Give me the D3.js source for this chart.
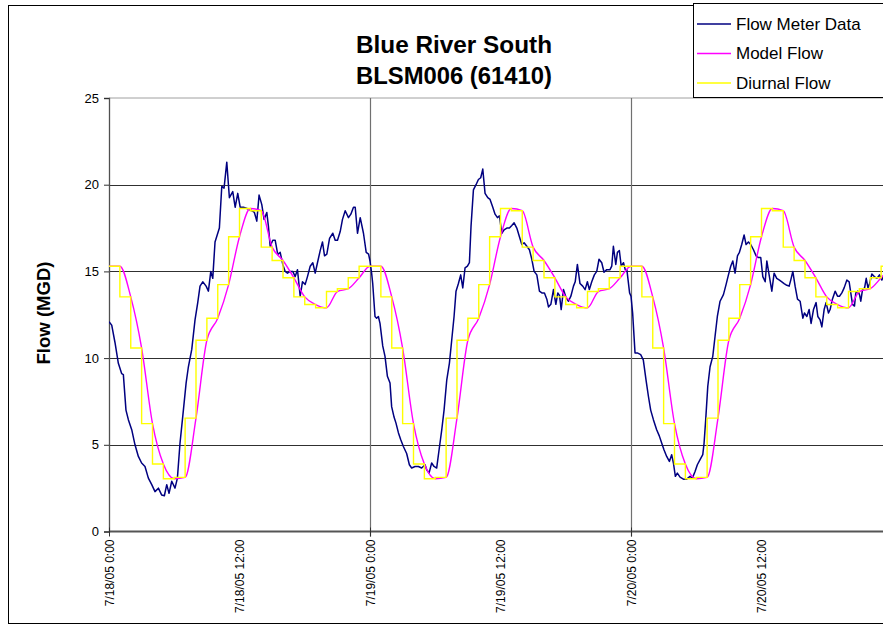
<!DOCTYPE html>
<html>
<head>
<meta charset="utf-8">
<script src="https://cdn.jsdelivr.net/npm/d3@7"></script>
<style>
  html, body { margin: 0; padding: 0; background: #fff; }
  svg { display: block; font-family: "Liberation Sans", Arial, sans-serif; }
</style>
</head>
<body>
<svg id="chart" width="883" height="628"></svg>
<script>
// ---------------- DATA ----------------
const titleLines = ["Blue River South", "BLSM006 (61410)"];
const yAxisTitle = "Flow (MGD)";
const seriesNames = ["Flow Meter Data", "Model Flow", "Diurnal Flow"];
const seriesColors = ["#000080", "#FF00FF", "#FFFF00"];
const yTicks = [0, 5, 10, 15, 20, 25];
const xTickLabels = ["7/18/05 0:00", "7/18/05 12:00", "7/19/05 0:00", "7/19/05 12:00", "7/20/05 0:00", "7/20/05 12:00"];
const xTickHours = [0, 12, 24, 36, 48, 60];
const dayGridHours = [24, 48];

// Flow meter readings: hours since 7/18/05 0:00, and flow (MGD)
const flowHours = [
  0.0,0.25,0.55,0.86,1.17,1.32,1.56,1.78,2.09,2.39,2.7,3.0,3.31,3.62,3.93,4.23,4.54,4.85,5.09,5.31,5.52,5.77,6.07,6.29,6.53,6.84,
  7.09,7.3,7.61,7.91,8.16,8.37,8.62,8.93,9.14,9.36,9.54,9.75,10.15,10.37,10.58,10.83,11.07,11.38,11.6,11.84,12.06,12.36,12.82,
  13.13,13.37,13.59,13.8,14.05,14.26,14.51,14.66,14.82,15.06,15.28,15.52,15.74,15.98,16.2,16.41,16.66,16.9,17.12,17.33,17.58,
  17.79,18.04,18.25,18.5,18.74,18.96,19.17,19.42,19.63,19.82,20.03,20.28,20.58,20.8,21.01,21.26,21.47,21.72,22.02,22.24,22.48,
  22.64,22.85,23.1,23.4,23.65,23.87,
  24.0,24.15,24.25,24.46,24.61,24.77,24.92,25.17,25.38,25.6,25.84,25.99,26.21,26.39,26.61,26.82,27.07,27.37,27.62,27.83,28.14,
  28.45,28.75,29.06,29.21,29.43,29.67,29.89,30.13,30.35,30.6,30.81,31.06,31.3,31.52,31.73,31.91,32.13,32.34,32.53,32.74,32.96,
  33.14,33.29,33.51,33.75,33.97,34.18,34.37,34.58,34.83,35.04,35.29,35.5,35.72,35.9,36.12,36.33,36.58,36.82,37.04,37.25,37.5,
  37.74,37.96,38.17,38.42,38.66,38.88,39.09,39.34,39.58,39.8,40.04,40.26,40.41,40.63,40.87,41.09,41.27,41.43,41.58,41.79,42.04,
  42.25,42.47,42.71,42.87,43.07,43.31,43.56,43.78,43.99,44.17,44.39,44.63,44.85,45.06,45.31,45.52,45.77,46.07,46.23,46.38,46.6,
  46.75,46.93,47.1,47.31,47.47,47.62,47.87,
  48.0,48.15,48.37,48.58,48.89,49.13,49.38,49.6,49.81,50.06,50.36,50.61,50.82,51.04,51.28,51.53,51.74,51.9,52.08,52.26,52.51,
  52.82,53.12,53.43,53.64,53.89,54.1,54.35,54.6,54.72,54.87,55.06,55.27,55.52,55.73,55.94,56.19,56.5,56.74,56.96,57.17,57.36,
  57.57,57.79,57.97,58.18,58.4,58.58,58.8,59.01,59.26,59.5,59.72,59.93,60.12,60.34,60.49,60.7,60.95,61.16,61.4,61.65,61.87,
  62.08,62.33,62.54,62.69,62.88,63.09,63.31,63.55,63.8,63.95,64.17,64.38,64.56,64.78,65.02,65.18,65.39,65.55,65.76,65.94,66.16,
  66.31,66.52,66.77,66.99,67.17,67.39,67.6,67.85,68.06,68.21,68.37,68.55,68.67,68.86,69.01,69.13,69.29,69.48,69.63,69.79,69.94,
  70.15,70.37,70.61,70.85,71.07,71.19,71.3
];
const flowValues = [
  12.1,11.9,10.9,9.7,9.1,9.05,7.0,6.45,5.87,5.0,4.33,3.95,3.75,3.08,2.7,2.3,2.5,2.1,2.06,2.7,2.2,2.9,2.5,3.08,5.1,7.0,
  8.56,9.5,10.5,12.2,13.2,14.15,14.4,14.15,13.86,15.0,14.6,16.7,17.5,19.9,19.8,21.3,19.25,19.6,18.7,19.5,18.7,18.7,18.6,
  18.5,18.4,17.9,19.4,18.85,18.0,18.4,17.6,16.45,16.8,16.8,15.97,16.1,15.4,15.0,14.9,15.0,15.0,14.7,15.1,13.57,
  14.4,14.25,14.7,15.3,15.5,14.9,15.5,16.2,16.7,15.9,16.0,16.9,17.2,16.8,16.8,17.3,18.0,18.5,18.1,18.3,18.7,
  18.7,17.2,18.1,17.2,16.1,16.0,
  15.6,14.9,14.3,12.4,12.3,12.4,12.0,10.7,10.1,8.95,8.56,7.2,6.6,6.25,5.7,5.3,4.9,4.5,3.85,3.66,3.75,
  3.75,3.66,3.85,3.56,3.37,3.95,3.75,3.66,4.7,5.87,7.0,8.75,9.7,11.07,12.4,13.86,14.3,14.8,14.05,15.2,15.3,
  15.5,17.6,19.7,20.0,20.3,20.4,20.9,19.5,19.25,19.15,18.7,18.3,18.1,18.2,17.2,17.4,17.5,17.5,17.65,17.8,17.5,
  17.0,16.55,16.65,16.45,16.25,15.7,15.0,14.8,13.86,13.76,13.76,13.4,12.95,13.1,13.95,13.1,13.76,13.6,12.8,13.95,13.47,
  13.28,13.57,14.15,14.4,15.4,14.3,14.15,13.95,14.4,13.95,14.4,14.8,15.0,15.7,15.5,14.95,15.1,15.1,15.3,16.45,15.4,
  16.1,16.2,15.3,15.5,15.1,15.1,13.76,
  13.57,12.6,10.3,10.3,10.2,9.9,8.75,7.8,7.0,6.45,5.87,5.5,5.1,4.7,4.33,4.04,4.43,3.95,3.18,3.37,3.14,
  3.02,3.02,3.18,3.08,3.46,3.85,4.14,4.43,5.1,6.45,8.37,9.5,10.1,11.26,12.4,13.28,13.66,14.24,14.8,15.3,15.6,
  14.9,15.9,16.1,16.55,17.1,16.55,16.7,16.55,16.25,15.9,15.8,15.8,14.7,14.4,15.6,14.8,13.86,14.9,14.6,14.5,14.4,
  14.3,14.2,14.15,14.5,15.0,14.15,13.4,13.28,12.3,12.6,12.4,12.8,12.0,12.8,13.2,12.4,12.2,11.8,12.8,13.2,12.6,
  12.8,13.4,13.86,13.57,13.57,13.76,14.05,14.5,14.4,13.76,13.1,13.0,13.76,13.86,13.66,13.28,13.95,14.05,14.6,14.05,14.3,
  14.85,14.7,14.6,14.8,14.5,14.7,14.6
];

// Model flow: value at each hour of the day (0:00 .. 23:00), repeats daily
const modelHourly = [15.3,15.3,13.53,10.58,6.22,3.89,3.04,3.12,6.54,11.03,12.3,14.24,
                     17.0,18.63,18.5,16.4,15.63,14.63,13.53,13.09,12.9,13.84,14.0,14.63];
// Diurnal flow: hourly step level for hour h..h+1, repeats daily
const diurnalHourly = [15.3,13.53,10.58,6.22,3.89,3.04,3.12,6.54,11.03,12.3,14.24,17.0,
                       18.63,18.5,16.4,15.63,14.63,13.53,13.09,12.9,13.84,14.0,14.63,15.3];
const numDays = 3;

// ---------------- CHART ----------------
const start = new Date(2005, 6, 18, 0, 0);
const hoursToDate = h => new Date(start.getTime() + h * 3600e3);

const svg = d3.select("#chart");
const W = 883, H = 628;
const plot = { left: 109, right: 892, top: 98, bottom: 531.5 };

const x = d3.scaleTime()
  .domain([start, hoursToDate(24 * numDays)])
  .range([plot.left, plot.right]);
const y = d3.scaleLinear().domain([0, 25]).range([plot.bottom, plot.top]);

// background + outer border
svg.append("rect").attr("x", 0).attr("y", 0).attr("width", W).attr("height", H).attr("fill", "#fff");
svg.append("rect").attr("x", 8.5).attr("y", 5.5).attr("width", 900).attr("height", 618)
  .attr("fill", "none").attr("stroke", "#000").attr("stroke-width", 1);

// top plot border (at 25)
svg.append("line").attr("x1", plot.left).attr("x2", W).attr("y1", y(25)).attr("y2", y(25))
  .attr("stroke", "#a0a0a0").attr("stroke-width", 1);

// horizontal gridlines
svg.append("g").selectAll("line").data(yTicks.filter(v => v > 0 && v < 25)).join("line")
  .attr("x1", plot.left).attr("x2", W)
  .attr("y1", d => Math.round(y(d)) + 0.5).attr("y2", d => Math.round(y(d)) + 0.5)
  .attr("stroke", "#303030").attr("stroke-width", 1);

// vertical day gridlines
svg.append("g").selectAll("line").data(dayGridHours).join("line")
  .attr("x1", d => Math.round(x(hoursToDate(d))) + 0.5).attr("x2", d => Math.round(x(hoursToDate(d))) + 0.5)
  .attr("y1", plot.top).attr("y2", plot.bottom + 5)
  .attr("stroke", "#707070").attr("stroke-width", 1.2);

// Y axis
const yAxis = d3.axisLeft(y).tickValues(yTicks).tickSize(5).tickPadding(5).tickFormat(d3.format("d"));
const gy = svg.append("g").attr("transform", `translate(${plot.left},0)`).call(yAxis);
gy.select(".domain").attr("stroke", "#505050").attr("stroke-width", 1.3);
gy.selectAll(".tick line").attr("stroke", "#303030");
gy.selectAll(".tick text").attr("font-size", 13).attr("fill", "#000")
  .attr("font-family", "'Liberation Sans', Arial, sans-serif");

// X axis
const xAxis = d3.axisBottom(x)
  .tickValues(xTickHours.map(hoursToDate))
  .tickSize(0).tickPadding(0)
  .tickFormat((d, i) => xTickLabels[i]);
const gx = svg.append("g").attr("transform", `translate(0,${plot.bottom})`).call(xAxis);
gx.select(".domain").remove();
gx.append("line").attr("x1", plot.left).attr("x2", W).attr("y1", 0).attr("y2", 0)
  .attr("stroke", "#555").attr("stroke-width", 2);
gx.selectAll(".tick text")
  .attr("font-size", 12).attr("fill", "#000")
  .attr("font-family", "'Liberation Sans', Arial, sans-serif")
  .attr("transform", "rotate(-90)")
  .attr("text-anchor", "end")
  .attr("x", -8).attr("y", 0).attr("dy", "0.35em");
// day tick marks
gx.append("g").selectAll("line").data([0].concat(dayGridHours)).join("line")
  .attr("x1", d => Math.round(x(hoursToDate(d))) + 0.5).attr("x2", d => Math.round(x(hoursToDate(d))) + 0.5)
  .attr("y1", -4).attr("y2", 5).attr("stroke", "#303030");

// series data
const flowData = flowHours.map((h, i) => ({ t: hoursToDate(h), v: flowValues[i] }));
const modelData = [];
const diurnalData = [];
for (let dday = 0; dday < numDays; dday++) {
  for (let h = 0; h < 24; h++) {
    modelData.push({ t: hoursToDate(dday * 24 + h), v: modelHourly[h] });
    diurnalData.push({ t: hoursToDate(dday * 24 + h), v: diurnalHourly[h] });
  }
}
modelData.push({ t: hoursToDate(numDays * 24), v: modelHourly[0] });
diurnalData.push({ t: hoursToDate(numDays * 24), v: diurnalHourly[23] });

const clipId = "plotclip";
svg.append("clipPath").attr("id", clipId).append("rect")
  .attr("x", plot.left).attr("y", plot.top - 5).attr("width", W - plot.left).attr("height", plot.bottom - plot.top + 5);

const lines = svg.append("g").attr("clip-path", `url(#${clipId})`);
lines.append("path").datum(flowData)
  .attr("fill", "none").attr("stroke", seriesColors[0]).attr("stroke-width", 1.5).attr("stroke-linejoin", "round")
  .attr("d", d3.line().x(d => x(d.t)).y(d => y(d.v)));
lines.append("path").datum(modelData)
  .attr("fill", "none").attr("stroke", seriesColors[1]).attr("stroke-width", 1.4)
  .attr("d", d3.line().x(d => x(d.t)).y(d => y(d.v)).curve(d3.curveMonotoneX));
lines.append("path").datum(diurnalData)
  .attr("fill", "none").attr("stroke", seriesColors[2]).attr("stroke-width", 1.4)
  .attr("d", d3.line().x(d => x(d.t)).y(d => y(d.v)).curve(d3.curveStepAfter));

// Title
svg.append("g").selectAll("text").data(titleLines).join("text")
  .attr("x", 454).attr("y", (d, i) => 53 + i * 31)
  .attr("text-anchor", "middle")
  .attr("font-size", 24).attr("font-weight", "bold").attr("fill", "#000")
  .attr("textLength", 196).attr("lengthAdjust", "spacingAndGlyphs")
  .text(d => d);

// Y axis title
svg.append("text")
  .attr("transform", `translate(50,313) rotate(-90)`)
  .attr("text-anchor", "middle")
  .attr("font-size", 18).attr("font-weight", "bold").attr("fill", "#000")
  .attr("textLength", 103).attr("lengthAdjust", "spacingAndGlyphs")
  .text(yAxisTitle);

// Legend
const lg = svg.append("g");
lg.append("rect").attr("x", 693.5).attr("y", 3.5).attr("width", 200).attr("height", 94)
  .attr("fill", "#fff").attr("stroke", "#000").attr("stroke-width", 1);
const legendRows = lg.selectAll("g.row").data(seriesNames).join("g").attr("class", "row")
  .attr("transform", (d, i) => `translate(0,${24 + i * 29.5})`);
legendRows.append("line").attr("x1", 697).attr("x2", 731).attr("y1", 0).attr("y2", 0)
  .attr("stroke", (d, i) => seriesColors[i]).attr("stroke-width", 1.5);
legendRows.append("text").attr("x", 736).attr("y", 0).attr("dy", "0.35em")
  .attr("font-size", 17).attr("fill", "#000")
  .text(d => d);
</script>
</body>
</html>
